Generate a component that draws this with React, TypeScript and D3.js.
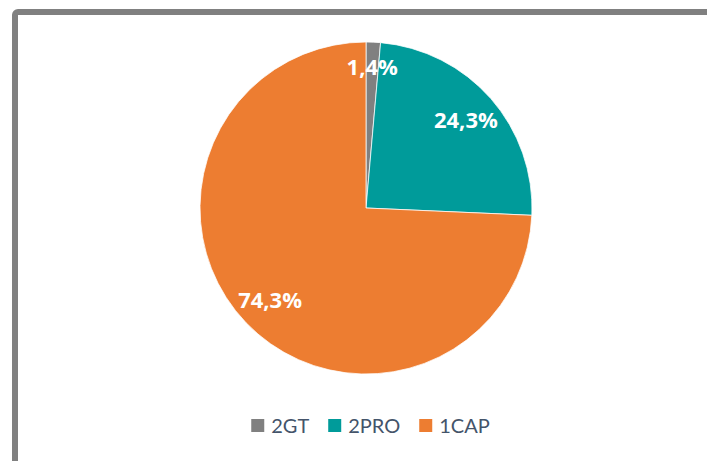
import React, { useEffect, useRef } from 'react';
import * as d3 from 'd3';

const categories = ['2GT', '2PRO', '1CAP'];
const values = [1.4, 24.3, 74.3];
const labels = ['1,4%', '24,3%', '74,3%'];
const colors = ['#808080', '#009B9A', '#ED7D31'];

const App = () => {
  const svgRef = useRef<SVGSVGElement>(null);

  useEffect(() => {
    const width = 707;
    const height = 461;
    const cx = 366;
    const cy = 208;
    const radius = 166;

    d3.select(svgRef.current).selectAll('*').remove();
    const svg = d3.select(svgRef.current)
      .attr('width', width)
      .attr('height', height);

    svg.append('rect')
      .attr('width', width)
      .attr('height', height)
      .attr('fill', '#fff');

    // chart frame, runs off the right and bottom edge
    svg.append('rect')
      .attr('x', 15)
      .attr('y', 12)
      .attr('width', width + 20)
      .attr('height', height + 20)
      .attr('rx', 3)
      .attr('fill', 'none')
      .attr('stroke', '#808080')
      .attr('stroke-width', 6);

    const pie = d3.pie<number>().sort(null).value(d => d);
    const arcs = pie(values);
    const arc = d3.arc<d3.PieArcDatum<number>>().innerRadius(0).outerRadius(radius);

    const g = svg.append('g').attr('transform', `translate(${cx},${cy})`);

    g.selectAll('path')
      .data(arcs)
      .enter()
      .append('path')
      .attr('d', arc)
      .attr('fill', (d, i) => colors[i])
      .attr('stroke', '#fff')
      .attr('stroke-width', 0.75);

    const labelArc = (d: d3.PieArcDatum<number>) => {
      const r = d.value < 5 ? radius * 0.85 : radius * 0.8;
      return d3.arc<d3.PieArcDatum<number>>().innerRadius(r).outerRadius(r).centroid(d);
    };

    g.selectAll('text')
      .data(arcs)
      .enter()
      .append('text')
      .attr('x', d => labelArc(d)[0])
      .attr('y', d => labelArc(d)[1])
      .attr('dy', '0.36em')
      .attr('text-anchor', 'middle')
      .attr('font-family', '"Open Sans", sans-serif')
      .attr('font-weight', 'bold')
      .attr('font-size', 22)
      .attr('fill', '#fff')
      .text((d, i) => labels[i]);

    // legend
    const legend = svg.append('g');
    let x = 0;
    categories.forEach((c, i) => {
      const item = legend.append('g').attr('transform', `translate(${x},0)`);
      item.append('rect')
        .attr('x', 0)
        .attr('y', 0)
        .attr('width', 13)
        .attr('height', 13)
        .attr('fill', colors[i]);
      const t = item.append('text')
        .attr('x', 20)
        .attr('y', 14)
        .attr('font-family', 'Lato, "Open Sans", sans-serif')
        .attr('font-size', 20)
        .attr('fill', '#44546A')
        .text(c);
      const w = (t.node() as SVGTextElement).getComputedTextLength();
      x += 20 + w + 19;
    });
    const total = x - 19;
    legend.attr('transform', `translate(${370.5 - total / 2},419)`);
  }, []);

  return (
    <div style={{ position: 'absolute', left: 0, top: 0 }}>
      <svg ref={svgRef} style={{ display: 'block' }}></svg>
    </div>
  );
};

export default App;
